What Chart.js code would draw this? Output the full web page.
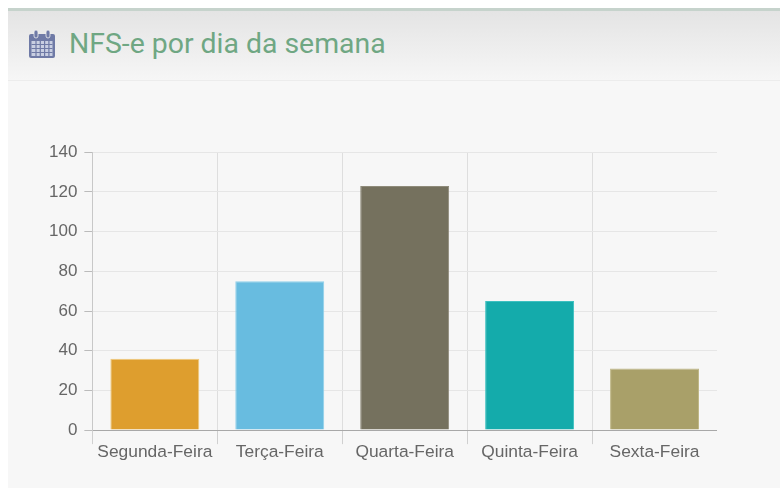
<!DOCTYPE html>
<html>
<head>
<meta charset="utf-8">
<script src="https://cdn.jsdelivr.net/npm/chart.js@4"></script>
<style>
  html, body { margin: 0; padding: 0; background: #fff; overflow: hidden; }
  body { width: 780px; height: 488px; position: relative; }
  .panel { position: absolute; left: 8px; top: 8px; width: 772px; height: 480px; background: #f7f7f7; border-top: 3px solid #c6d3cc; box-sizing: border-box; }
  .panel-heading { height: 69px; background: linear-gradient(#e4e4e4, #f6f6f6); border-bottom: 1px solid #ececec; position: relative; }
  .panel-heading svg { position: absolute; left: 20px; top: 18px; }
  .panel-heading h3 { position: absolute; left: 61px; top: 16px; margin: 0; font: 400 28.4px Roboto, sans-serif; color: #6fa783; white-space: nowrap; }
  .chart-box { position: absolute; left: 34px; top: 124px; width: 675px; height: 326px; }
</style>
</head>
<body>
<div class="panel">
  <div class="panel-heading">
    <svg width="28" height="30" viewBox="0 0 28 30">
      <rect x="1" y="5" width="26" height="24" rx="2" fill="#6f7aa6"/>
      <rect x="3.5" y="12" width="21" height="15" fill="#c9cfe2"/>
      <path d="M3.5 15.5h21M3.5 19.5h21M3.5 23.5h21M8 12v15M12.3 12v15M16.6 12v15M20.9 12v15" stroke="#6f7aa6" stroke-width="1.2"/>
      <rect x="6" y="1" width="4" height="8" rx="2" fill="#6f7aa6" stroke="#f0f0f0" stroke-width="0.8"/>
      <rect x="18" y="1" width="4" height="8" rx="2" fill="#6f7aa6" stroke="#f0f0f0" stroke-width="0.8"/>
    </svg>
    <h3>NFS-e por dia da semana</h3>
  </div>
  <div class="chart-box"><canvas id="diaChart"></canvas></div>
</div>
<script>
// dados
const dias = ["Segunda-Feira", "Terça-Feira", "Quarta-Feira", "Quinta-Feira", "Sexta-Feira"];
const notas = [36, 75, 123, 65, 31];
const cores = ["#de9e2e", "#68bce0", "#75715e", "#14abab", "#a9a069"];
const bordas = ["#f0c878", "#8fd0ea", "#8f8b7a", "#3cc0c0", "#c0b888"];

const ctx = document.getElementById("diaChart").getContext("2d");
new Chart(ctx, {
  type: "bar",
  data: {
    labels: dias,
    datasets: [
      {
        data: notas,
        backgroundColor: cores,
        borderColor: bordas,
        borderWidth: 1,
        barPercentage: 0.89,
        categoryPercentage: 0.8,
      },
    ],
  },
  options: {
    responsive: true,
    maintainAspectRatio: false,
    animation: false,
    plugins: { legend: { display: false }, tooltip: { enabled: false } },
    scales: {
      x: {
        grid: { color: "#dedede", tickLength: 14, tickColor: "#d0d0d0" },
        border: { color: "#a8a8a8" },
        ticks: { color: "#666", font: { family: "Liberation Sans", size: 17.4 }, maxRotation: 0, padding: -2 },
      },
      y: {
        min: 0,
        max: 140,
        grid: { color: "#e6e6e6", tickLength: 8, tickColor: "#bbb" },
        border: { color: "#c8c8c8" },
        ticks: { stepSize: 20, color: "#666", font: { family: "Liberation Sans", size: 17 }, padding: 7 },
      },
    },
  },
});
</script>
</body>
</html>
